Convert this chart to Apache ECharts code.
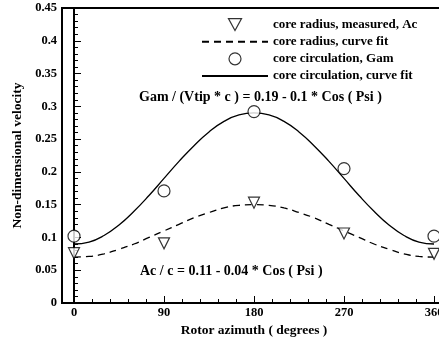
<!DOCTYPE html>
<html>
<head>
<meta charset="utf-8">
<script src="https://cdn.jsdelivr.net/npm/echarts@6/dist/echarts.min.js"></script>
<style>
html, body { margin: 0; padding: 0; background: #fff; }
#chart { width: 439px; height: 337px; }
</style>
</head>
<body>
<div id="chart"></div>
<script>
// measured points
var azimuth = [0, 90, 180, 270, 360];
var acMeasured = [0.076, 0.091, 0.153, 0.106, 0.075];
var gamMeasured = [0.102, 0.171, 0.292, 0.205, 0.102];

// curve fits, read every 15 degrees
var azimuthFit = [0, 15, 30, 45, 60, 75, 90, 105, 120, 135, 150, 165, 180,
    195, 210, 225, 240, 255, 270, 285, 300, 315, 330, 345, 360];
var acFit = [0.070, 0.071, 0.075, 0.082, 0.090, 0.100, 0.110, 0.120, 0.130, 0.138, 0.145, 0.149, 0.150,
    0.149, 0.145, 0.138, 0.130, 0.120, 0.110, 0.100, 0.090, 0.082, 0.075, 0.071, 0.070];
var gamFit = [0.090, 0.093, 0.103, 0.119, 0.140, 0.164, 0.190, 0.216, 0.240, 0.261, 0.277, 0.287, 0.290,
    0.287, 0.277, 0.261, 0.240, 0.216, 0.190, 0.164, 0.140, 0.119, 0.103, 0.093, 0.090];

var xTicks = [0, 90, 180, 270, 360];
var xMinorTicks = [18, 36, 54, 72, 108, 126, 144, 162, 198, 216, 234, 252, 288, 306, 324, 342];

var names = ['core radius, measured, Ac', 'core radius, curve fit', 'core circulation, Gam', 'core circulation, curve fit'];

function pairs(xs, ys) {
    return xs.map(function (x, i) { return [x, ys[i]]; });
}

function font(size) {
    return {
        fontFamily: 'Liberation Serif',
        fontWeight: 'bold',
        fontSize: size,
        color: '#000'
    };
}

var hollow = { color: '#fff', borderColor: '#000', borderWidth: 1.2 };
var noMark = { color: 'transparent', borderColor: 'transparent', borderWidth: 0 };

var myChart = echarts.init(document.getElementById('chart'));
var option = {
    animation: false,
    backgroundColor: '#fff',
    grid: {
        left: 62,
        right: -7,
        top: 8,
        bottom: 34,
        outerBoundsMode: 'none',
        show: true,
        borderColor: '#000',
        borderWidth: 2
    },
    legend: {
        data: [
            { name: names[0], icon: 'path://M0,0 L12,0 L6,11 Z', itemStyle: hollow },
            { name: names[1], itemStyle: noMark },
            { name: names[2], icon: 'circle', itemStyle: hollow },
            { name: names[3], itemStyle: noMark }
        ],
        orient: 'vertical',
        left: 201,
        top: 18,
        padding: 0,
        itemWidth: 66,
        itemHeight: 12,
        itemGap: 4,
        textStyle: font(13)
    },
    graphic: [{
        type: 'text',
        left: 139,
        top: 90,
        style: {
            text: 'Gam / (Vtip * c ) = 0.19 - 0.1 * Cos ( Psi )',
            font: 'bold 14px "Liberation Serif"',
            fill: '#000'
        }
    }, {
        type: 'text',
        left: 140,
        top: 264,
        style: {
            text: 'Ac / c = 0.11 - 0.04 * Cos ( Psi )',
            font: 'bold 14px "Liberation Serif"',
            fill: '#000'
        }
    }],
    xAxis: [{
        type: 'value',
        min: -12,
        max: 372,
        name: 'Rotor azimuth ( degrees )',
        nameLocation: 'middle',
        nameGap: 18,
        nameTextStyle: font(13.5),
        axisLine: { lineStyle: { color: '#000', width: 2 } },
        axisTick: {
            inside: true,
            length: 7,
            customValues: xTicks,
            lineStyle: { color: '#000', width: 1 }
        },
        axisLabel: Object.assign({ margin: 3, customValues: xTicks }, font(12.5)),
        splitLine: { show: false }
    }, {
        type: 'value',
        min: -12,
        max: 372,
        position: 'bottom',
        axisLine: { show: false },
        axisTick: {
            inside: true,
            length: 4,
            customValues: xMinorTicks,
            lineStyle: { color: '#000', width: 1 }
        },
        axisLabel: { show: false },
        splitLine: { show: false }
    }],
    yAxis: {
        type: 'value',
        min: 0,
        max: 0.45,
        interval: 0.05,
        name: 'Non-dimensional velocity',
        nameLocation: 'middle',
        nameRotate: 90,
        nameGap: 37,
        nameTextStyle: font(13.5),
        axisLine: { lineStyle: { color: '#000', width: 2 } },
        axisTick: { inside: true, length: 7, lineStyle: { color: '#000', width: 1 } },
        minorTick: { show: true, splitNumber: 5, length: 4, lineStyle: { color: '#000', width: 1 } },
        axisLabel: Object.assign({ margin: 5 }, font(12.5)),
        splitLine: { show: false }
    },
    series: [{
        name: names[0],
        type: 'scatter',
        data: pairs(azimuth, acMeasured),
        symbol: 'triangle',
        symbolRotate: 180,
        symbolSize: 11,
        itemStyle: hollow,
        z: 5
    }, {
        name: names[1],
        type: 'line',
        data: pairs(azimuthFit, acFit),
        smooth: true,
        showSymbol: false,
        symbol: 'none',
        lineStyle: { color: '#000', width: 1.3, type: [7, 5] },
        itemStyle: { color: '#000' }
    }, {
        name: names[2],
        type: 'scatter',
        data: pairs(azimuth, gamMeasured),
        symbol: 'circle',
        symbolSize: 12,
        itemStyle: hollow,
        z: 5
    }, {
        name: names[3],
        type: 'line',
        data: pairs(azimuthFit, gamFit),
        smooth: true,
        showSymbol: false,
        symbol: 'none',
        lineStyle: { color: '#000', width: 1.3 },
        itemStyle: { color: '#000' }
    }]
};
myChart.setOption(option);
</script>
</body>
</html>
